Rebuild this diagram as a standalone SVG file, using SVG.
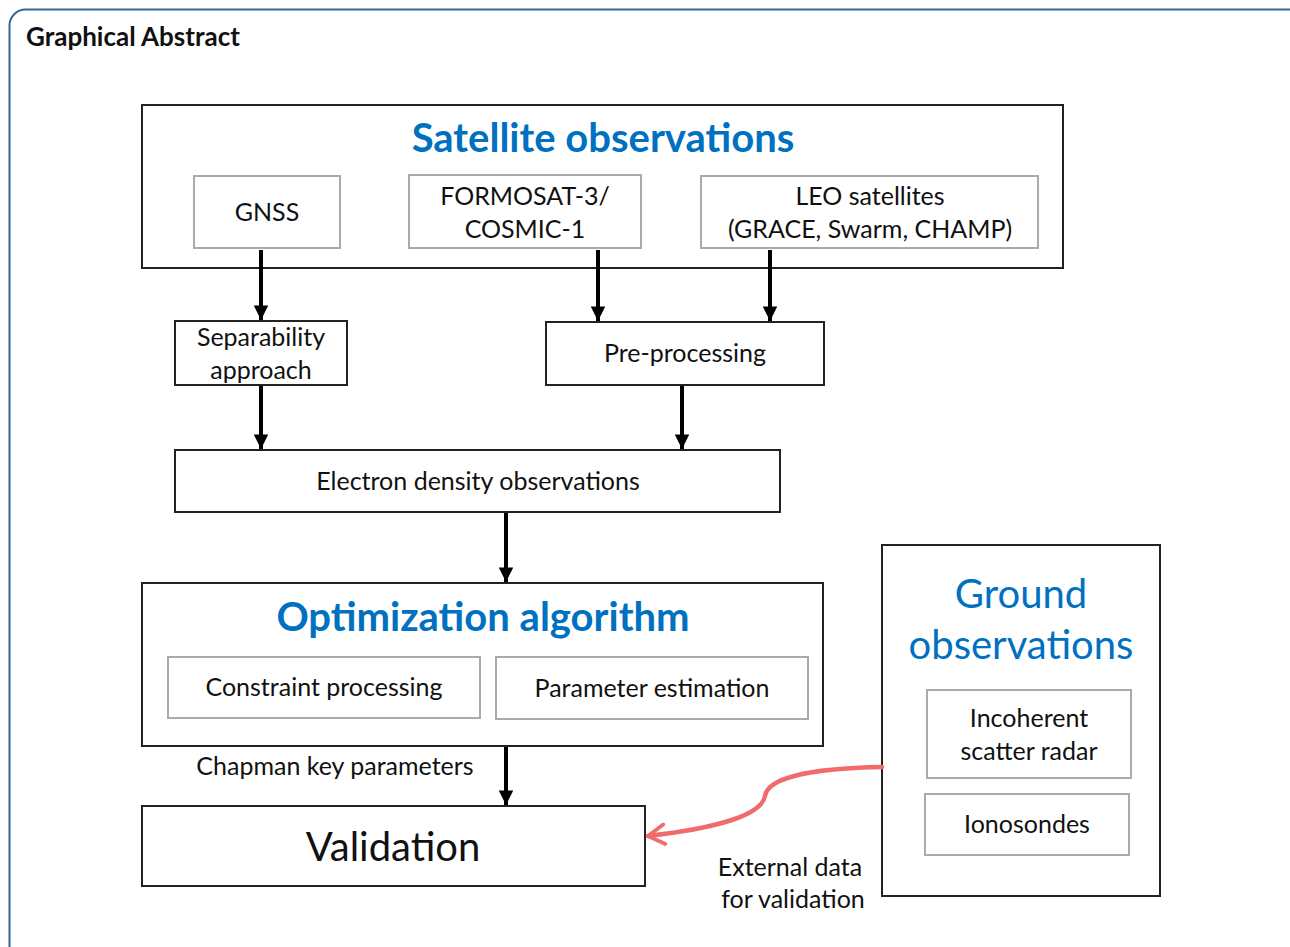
<svg xmlns="http://www.w3.org/2000/svg" width="1290" height="947" viewBox="0 0 1290 947">
<defs>
<marker id="ah" viewBox="0 0 10 10" refX="10" refY="5" markerWidth="4" markerHeight="3.6" orient="auto" markerUnits="strokeWidth">
<path d="M0,0 L10,5 L0,10 Z" fill="#000"/>
</marker>
<marker id="rh" viewBox="0 0 10 10" refX="9" refY="5" markerWidth="5.2" markerHeight="5.2" orient="auto" markerUnits="strokeWidth">
<path d="M2,0.8 L9,5 L2,9.2" fill="none" stroke="#f26b6b" stroke-width="1.6" stroke-linecap="round" stroke-linejoin="round"/>
</marker>
<style>
text{font-family:Lato,"Open Sans","Liberation Sans",sans-serif;fill:#111;}
.t{font-size:25px;text-anchor:middle;}
.h{font-size:40px;font-weight:bold;fill:#0070c0;text-anchor:middle;}
.box{fill:#fff;stroke:#222;stroke-width:2;}
.sub{fill:#fff;stroke:#aaa;stroke-width:2;}
.ar{stroke:#000;stroke-width:4;fill:none;marker-end:url(#ah);}
</style>
</defs>
<rect x="0" y="0" width="1290" height="947" fill="#fff"/>
<rect x="9.5" y="9.5" width="1300" height="960" rx="16" fill="none" stroke="#3d6593" stroke-width="2"/>
<text x="26" y="46" style="font-size:26px;font-weight:bold;">Graphical Abstract</text>

<g id="satellite">
<rect class="box" x="142" y="105" width="921" height="163"/>
<text class="h" x="603" y="152">Satellite observations</text>
</g>
<g id="gnss"><rect class="sub" x="194" y="176" width="146" height="72"/><text class="t" x="267" y="221">GNSS</text></g>
<g id="formosat"><rect class="sub" x="409" y="175" width="232" height="73"/><text class="t" x="525" y="205">FORMOSAT-3/</text><text class="t" x="525" y="238">COSMIC-1</text></g>
<g id="leo"><rect class="sub" x="701" y="176" width="337" height="72"/><text class="t" x="870" y="205">LEO satellites</text><text class="t" x="870" y="238">(GRACE, Swarm, CHAMP)</text></g>

<g id="separability"><rect class="box" x="175" y="321" width="172" height="64"/><text class="t" x="261" y="346">Separability</text><text class="t" x="261" y="379">approach</text></g>
<g id="preprocessing"><rect class="box" x="546" y="322" width="278" height="63"/><text class="t" x="685" y="362">Pre-processing</text></g>
<g id="electron"><rect class="box" x="175" y="450" width="605" height="62"/><text class="t" x="478" y="490">Electron density observations</text></g>

<g id="optimization">
<rect class="box" x="142" y="583" width="681" height="163"/>
<text class="h" x="483" y="631">Optimization algorithm</text>
</g>
<g id="constraint"><rect class="sub" x="168" y="657" width="312" height="61"/><text class="t" x="324" y="696">Constraint processing</text></g>
<g id="parameter"><rect class="sub" x="496" y="657" width="312" height="62"/><text class="t" x="652" y="697">Parameter estimation</text></g>

<g id="validation"><rect class="box" x="142" y="806" width="503" height="80"/><text x="393" y="861" style="font-size:40px;text-anchor:middle;">Validation</text></g>

<g id="ground">
<rect class="box" x="882" y="545" width="278" height="351"/>
<text x="1021" y="608" style="font-size:40px;fill:#0070c0;text-anchor:middle;">Ground</text>
<text x="1021" y="659" style="font-size:40px;fill:#0070c0;text-anchor:middle;">observations</text>
</g>
<g id="isr"><rect class="sub" x="927" y="690" width="204" height="88"/><text class="t" x="1029" y="727">Incoherent</text><text class="t" x="1029" y="760">scatter radar</text></g>
<g id="ionosondes"><rect class="sub" x="925" y="794" width="204" height="61"/><text class="t" x="1027" y="833">Ionosondes</text></g>

<g id="connectors">
<line class="ar" x1="261" y1="250" x2="261" y2="320"/>
<line class="ar" x1="598" y1="250" x2="598" y2="321"/>
<line class="ar" x1="770" y1="250" x2="770" y2="321"/>
<line class="ar" x1="261" y1="386" x2="261" y2="449"/>
<line class="ar" x1="682" y1="386" x2="682" y2="449"/>
<line class="ar" x1="506" y1="513" x2="506" y2="582"/>
<line class="ar" x1="506" y1="747" x2="506" y2="805"/>
<path d="M882,767 C820,768 768,776 765,796 C762,814 720,828 648,836" fill="none" stroke="#f26b6b" stroke-width="4.5" stroke-linecap="round" marker-end="url(#rh)"/>
<text class="t" x="335" y="775">Chapman key parameters</text>
<text class="t" x="790" y="876">External data</text>
<text class="t" x="793" y="908">for validation</text>
</g>
</svg>
